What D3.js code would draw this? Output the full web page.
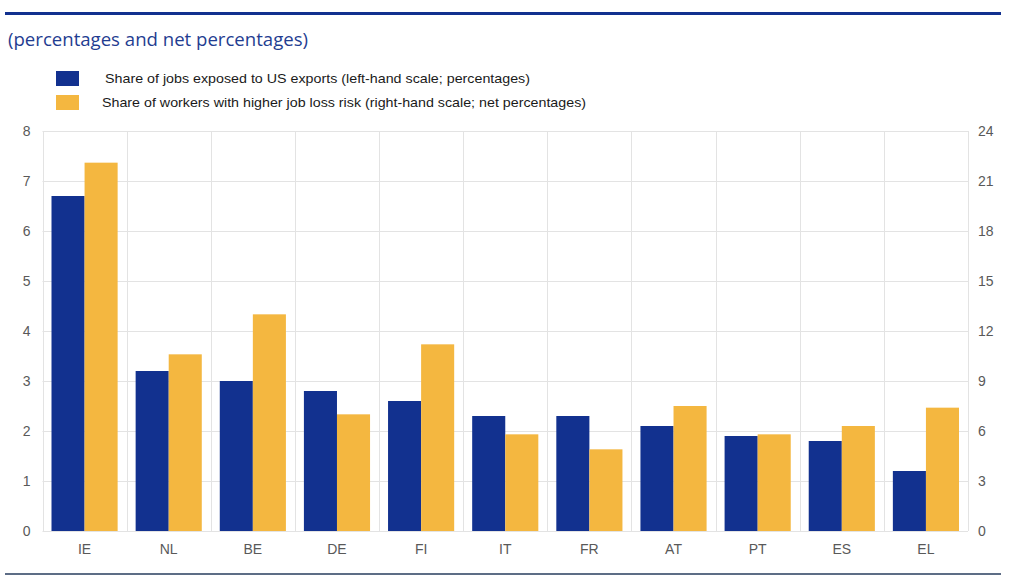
<!DOCTYPE html>
<html><head><meta charset="utf-8">
<script src="https://cdn.jsdelivr.net/npm/d3@7"></script>
<style>body{margin:0;background:#fff;}svg{display:block;}</style>
</head><body>
<svg id="c" width="1024" height="576"></svg>
<script>
const categories = ["IE","NL","BE","DE","FI","IT","FR","AT","PT","ES","EL"];
const jobsExposed = [6.7,3.2,3.0,2.8,2.6,2.3,2.3,2.1,1.9,1.8,1.2];
const jobLossRisk = [22.1,10.6,13.0,7.0,11.2,5.8,4.9,7.5,5.8,6.3,7.4];
const leftTicks = [0,1,2,3,4,5,6,7,8];
const rightTicks = [0,3,6,9,12,15,18,21,24];
const seriesNames = ["Share of jobs exposed to US exports (left-hand scale; percentages)",
                     "Share of workers with higher job loss risk (right-hand  scale; net percentages)"];
const colors = ["#12318f","#f4b740"];

const svg = d3.select("#c");
const m = {left:42.5, right:968, top:131, bottom:531};
const x = d3.scaleBand().domain(categories).range([m.left, m.right]).paddingInner(0).paddingOuter(0);
const yL = d3.scaleLinear().domain([0,8]).range([m.bottom, m.top]);
const yR = d3.scaleLinear().domain([0,24]).range([m.bottom, m.top]);

// top rule
svg.append("rect").attr("x",5).attr("y",12).attr("width",996).attr("height",3).attr("fill","#12318f");
svg.append("text").attr("x",8).attr("y",46).attr("font-family","'Open Sans', sans-serif")
  .attr("font-size",18.5).attr("fill","#1f3d91").attr("textLength",300).attr("lengthAdjust","spacingAndGlyphs")
  .text("(percentages and net percentages)");

// legend
const lg = svg.append("g");
[0,1].forEach(i=>{
  lg.append("rect").attr("x",56).attr("y",71+i*24).attr("width",23).attr("height",15).attr("fill",colors[i]);
  lg.append("text").attr("x",i===0?105:102).attr("y",83+i*24).attr("font-family","'Liberation Sans', Arial, sans-serif")
    .attr("font-size",13.5).attr("fill","#1a1a1a")
    .attr("textLength",i===0?425:484).attr("lengthAdjust","spacingAndGlyphs")
    .text(seriesNames[i]);
});

// grid
const grid = svg.append("g").attr("stroke","#e3e3e3").attr("stroke-width",1);
leftTicks.forEach(t=>{
  grid.append("line").attr("x1",m.left).attr("x2",m.right).attr("y1",Math.round(yL(t))+0.5).attr("y2",Math.round(yL(t))+0.5);
});
categories.forEach(c=>{
  const xx = Math.round(x(c))+0.5;
  grid.append("line").attr("x1",xx).attr("x2",xx).attr("y1",m.top).attr("y2",m.bottom);
});
grid.append("line").attr("x1",m.right+0.5).attr("x2",m.right+0.5).attr("y1",m.top).attr("y2",m.bottom);

// bars
const pad = 9;
const bw = (x.bandwidth()-2*pad)/2;
svg.append("g").selectAll("rect").data(categories).join("rect")
  .attr("x",d=>x(d)+pad).attr("width",bw)
  .attr("y",(d,i)=>yL(jobsExposed[i])).attr("height",(d,i)=>yL(0)-yL(jobsExposed[i]))
  .attr("fill",colors[0]);
svg.append("g").selectAll("rect").data(categories).join("rect")
  .attr("x",d=>x(d)+pad+bw).attr("width",bw)
  .attr("y",(d,i)=>yR(jobLossRisk[i])).attr("height",(d,i)=>yR(0)-yR(jobLossRisk[i]))
  .attr("fill",colors[1]);

// axes
const font = "'Liberation Sans', Arial, sans-serif";
const axL = svg.append("g").attr("transform",`translate(${m.left-12},0)`)
  .call(d3.axisLeft(yL).tickValues(leftTicks).tickSize(0).tickPadding(0));
const axR = svg.append("g").attr("transform",`translate(${m.right+10},0)`)
  .call(d3.axisRight(yR).tickValues(rightTicks).tickSize(0).tickPadding(0));
const axB = svg.append("g").attr("transform",`translate(0,${m.bottom+10})`)
  .call(d3.axisBottom(x).tickSize(0).tickPadding(0));
[axL,axR,axB].forEach(a=>{
  a.select(".domain").remove();
  a.selectAll("text").attr("font-family",font).attr("font-size",14).attr("fill","#595959");
});
axB.selectAll("text").attr("dy","0.9em");

// bottom rule
svg.append("rect").attr("x",5).attr("y",573).attr("width",996).attr("height",2).attr("fill","#5d6d86");
</script>
</body></html>
